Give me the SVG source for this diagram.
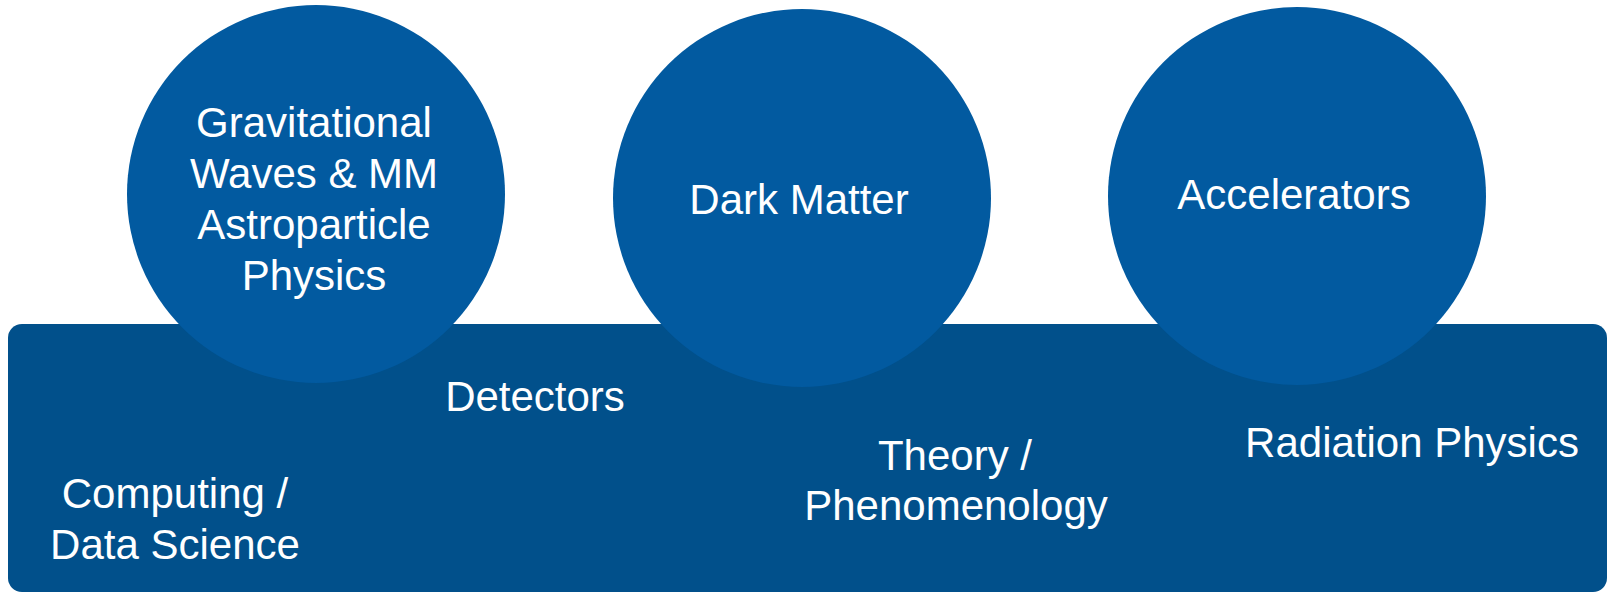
<svg xmlns="http://www.w3.org/2000/svg" width="1608" height="593" viewBox="0 0 1608 593">
<style>
.base{fill:#01508B}
.circ{fill:#025AA0}
.t{font-family:"Liberation Sans",Arial,sans-serif;font-size:42px;fill:#FFFFFF;text-anchor:middle}
</style>
<rect width="1608" height="593" fill="#FFFFFF"/>
<g id="base">
<rect class="base" x="8" y="324" width="1599" height="268" rx="14" ry="14"/>
<text class="t" x="175" y="508">Computing /</text>
<text class="t" x="175" y="559">Data Science</text>
<text class="t" x="535" y="411">Detectors</text>
<text class="t" x="955" y="470">Theory /</text>
<text class="t" x="956" y="520">Phenomenology</text>
<text class="t" x="1412" y="457">Radiation Physics</text>
</g>
<g id="gw">
<circle class="circ" cx="316" cy="194" r="189"/>
<text class="t" x="314" y="137">Gravitational</text>
<text class="t" x="314" y="188">Waves &amp; MM</text>
<text class="t" x="314" y="239">Astroparticle</text>
<text class="t" x="314" y="290">Physics</text>
</g>
<g id="dm">
<circle class="circ" cx="802" cy="198" r="189"/>
<text class="t" x="799" y="214">Dark Matter</text>
</g>
<g id="acc">
<circle class="circ" cx="1297" cy="196" r="189"/>
<text class="t" x="1294" y="209">Accelerators</text>
</g>
<g id="connectors"/>
</svg>
